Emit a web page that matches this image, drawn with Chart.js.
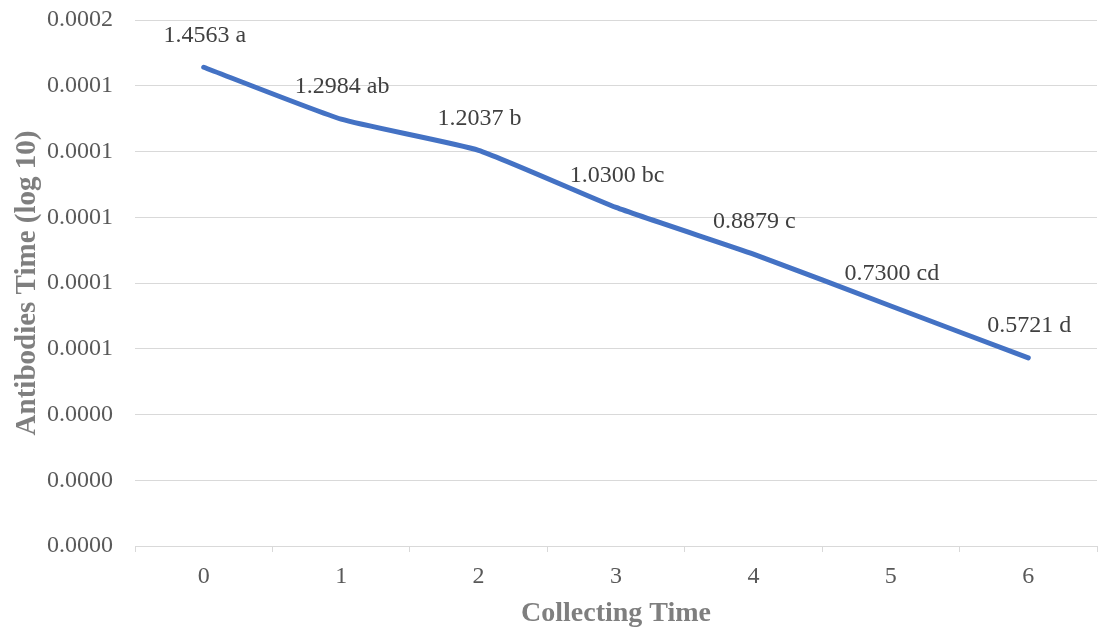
<!DOCTYPE html>
<html>
<head>
<meta charset="utf-8">
<script src="https://cdn.jsdelivr.net/npm/chart.js@4.4.0/dist/chart.umd.min.js"></script>
<style>
html,body{margin:0;padding:0;background:#fff;}
#wrap{width:1099px;height:629px;position:relative;}
</style>
</head>
<body>
<div id="wrap"><canvas id="c"></canvas></div>
<script>
const categories = ['0', '1', '2', '3', '4', '5', '6'];
const antibodyValues = [1.4563e-4, 1.2984e-4, 1.2037e-4, 1.0300e-4, 0.8879e-4, 0.7300e-4, 0.5721e-4];
const valueLabels = ['1.4563 a', '1.2984 ab', '1.2037 b', '1.0300 bc', '0.8879 c', '0.7300 cd', '0.5721 d'];
const yMin = 0, yMax = 0.00016, yStep = 0.00002;

const SERIF = '"Liberation Serif", "Times New Roman", serif';

const labelPlugin = {
  id: 'pointLabels',
  afterDatasetsDraw(chart) {
    const ctx = chart.ctx;
    const meta = chart.getDatasetMeta(0);
    ctx.save();
    ctx.font = '24px ' + SERIF;
    ctx.fillStyle = '#404040';
    ctx.textAlign = 'center';
    ctx.textBaseline = 'middle';
    meta.data.forEach((pt, i) => {
      ctx.fillText(valueLabels[i], pt.x + 1, pt.y - 32);
    });
    ctx.restore();
  }
};

new Chart(document.getElementById('c'), {
  type: 'line',
  data: {
    labels: categories,
    datasets: [{
      data: antibodyValues,
      borderColor: '#4472C4',
      borderWidth: 5,
      pointRadius: 0,
      tension: 0.15,
      fill: false,
      borderCapStyle: 'round'
    }]
  },
  options: {
    responsive: true,
    maintainAspectRatio: false,
    animation: false,
    layout: { padding: { top: 20, right: 2, bottom: 0, left: 0 } },
    plugins: { legend: { display: false }, tooltip: { enabled: false } },
    scales: {
      x: {
        offset: true,
        afterFit(s) { s.height = 83; s.paddingLeft = 0; s.paddingRight = 0; },
        grid: { offset: true, drawOnChartArea: false, drawTicks: true, tickLength: 6, color: '#d9d9d9', lineWidth: 1 },
        border: { display: true, color: '#d9d9d9', width: 1 },
        ticks: { color: '#595959', font: { family: SERIF, size: 24 }, padding: 10, maxRotation: 0 },
        title: { display: true, text: 'Collecting Time', color: '#7f7f7f', font: { family: SERIF, size: 28, weight: 'bold' }, padding: { top: 0, bottom: -2 } }
      },
      y: {
        min: yMin, max: yMax,
        afterFit(s) { s.width = 135; s.paddingTop = 0; s.paddingBottom = 0; },
        grid: { color: '#d9d9d9', lineWidth: 1, drawTicks: false },
        border: { display: false },
        ticks: {
          stepSize: yStep,
          padding: 22,
          color: '#595959',
          font: { family: SERIF, size: 24 },
          callback: v => Number(v).toFixed(4)
        },
        title: { display: true, text: 'Antibodies Time (log 10)', color: '#7f7f7f', font: { family: SERIF, size: 29, weight: 'bold' }, padding: { top: 10, bottom: 0 } }
      }
    }
  },
  plugins: [labelPlugin]
});
</script>
</body>
</html>
